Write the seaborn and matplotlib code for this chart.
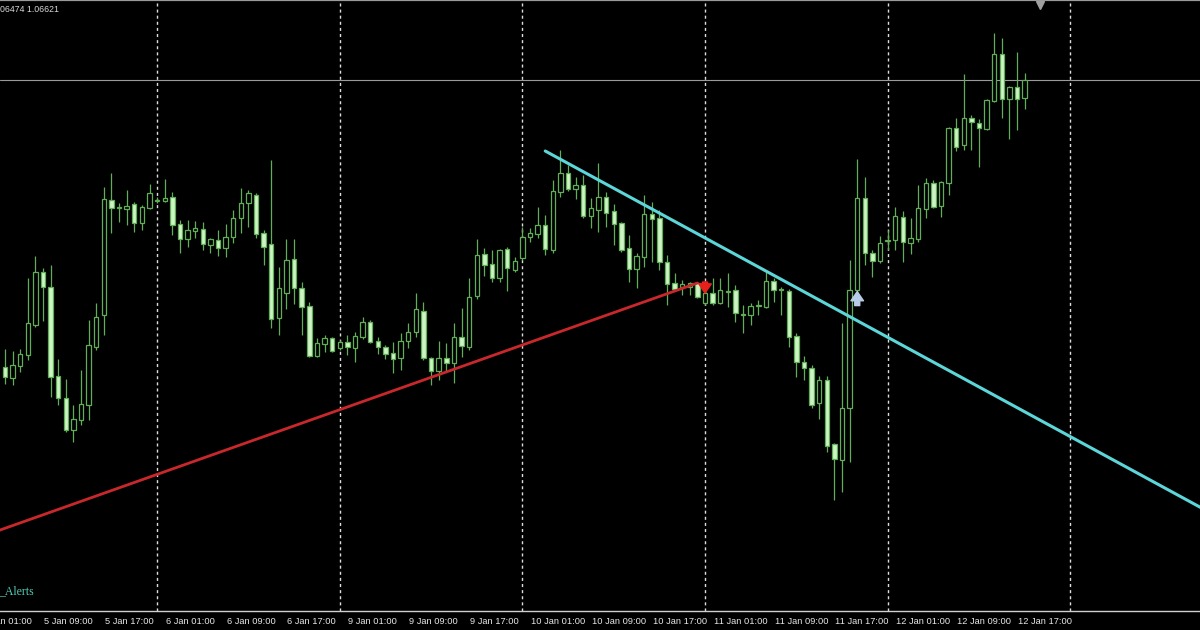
import numpy as np
import pandas as pd
import matplotlib
matplotlib.use("Agg")
import matplotlib.pyplot as plt
import matplotlib.transforms as mtransforms
import seaborn as sns

# ---------------- data (EURUSD H1) ----------------
open_ = [
    1.05185, 1.05130, 1.05190, 1.05245, 1.05395, 1.05660, 1.05585, 1.05140, 1.05030, 1.04870,
    1.04920, 1.04995, 1.05285, 1.05445, 1.06020, 1.05980, 1.05975, 1.06000, 1.05905, 1.05980,
    1.06015, 1.06015, 1.06035, 1.05900, 1.05825, 1.05865, 1.05875, 1.05795, 1.05820, 1.05780,
    1.05835, 1.05930, 1.06005, 1.06045, 1.05855, 1.05800, 1.05430, 1.05555, 1.05725, 1.05580,
    1.05490, 1.05240, 1.05300, 1.05330, 1.05280, 1.05310, 1.05280, 1.05335, 1.05410, 1.05315,
    1.05285, 1.05255, 1.05230, 1.05315, 1.05360, 1.05465, 1.05230, 1.05165, 1.05230, 1.05205,
    1.05335, 1.05285, 1.05540, 1.05750, 1.05700, 1.05630, 1.05775, 1.05670, 1.05730, 1.05835,
    1.05850, 1.05895, 1.05770, 1.06060, 1.06155, 1.06075, 1.06095, 1.05940, 1.05970, 1.06035,
    1.05965, 1.05905, 1.05780, 1.05675, 1.05735, 1.05950, 1.05930, 1.05710, 1.05605, 1.05585,
    1.05585, 1.05605, 1.05505, 1.05555, 1.05505, 1.05560, 1.05570, 1.05445, 1.05445, 1.05490,
    1.05485, 1.05615, 1.05572, 1.05565, 1.05340, 1.05210, 1.05180, 1.05005, 1.05120, 1.04800,
    1.04720, 1.04980, 1.05570, 1.06030, 1.05755, 1.05715, 1.05815, 1.05820, 1.05935, 1.05805,
    1.05825, 1.05975, 1.06105, 1.05990, 1.06105, 1.06380, 1.06295, 1.06430, 1.06405, 1.06375,
    1.06515, 1.06750, 1.06525, 1.06585, 1.06530,
]
high = [
    1.05275, 1.05265, 1.05275, 1.05630, 1.05740, 1.05680, 1.05695, 1.05225, 1.05125, 1.04995,
    1.05170, 1.05420, 1.05505, 1.06085, 1.06155, 1.06005, 1.06070, 1.06010, 1.05995, 1.06100,
    1.06035, 1.06125, 1.06060, 1.05920, 1.05920, 1.05915, 1.05910, 1.05830, 1.05870, 1.05900,
    1.05970, 1.06080, 1.06070, 1.06055, 1.05870, 1.06220, 1.05685, 1.05825, 1.05825, 1.05610,
    1.05510, 1.05330, 1.05345, 1.05335, 1.05320, 1.05345, 1.05360, 1.05435, 1.05420, 1.05335,
    1.05295, 1.05310, 1.05355, 1.05405, 1.05555, 1.05510, 1.05235, 1.05315, 1.05305, 1.05405,
    1.05480, 1.05630, 1.05825, 1.05780, 1.05770, 1.05775, 1.05785, 1.05735, 1.05885, 1.05880,
    1.05985, 1.05945, 1.06120, 1.06270, 1.06195, 1.06135, 1.06145, 1.06030, 1.06205, 1.06060,
    1.06000, 1.05910, 1.05845, 1.05755, 1.06045, 1.06010, 1.05970, 1.05745, 1.05655, 1.05620,
    1.05610, 1.05610, 1.05565, 1.05630, 1.05630, 1.05655, 1.05595, 1.05495, 1.05505, 1.05520,
    1.05660, 1.05630, 1.05585, 1.05575, 1.05355, 1.05240, 1.05195, 1.05140, 1.05140, 1.04805,
    1.05405, 1.05720, 1.06225, 1.06135, 1.05770, 1.05840, 1.05870, 1.05985, 1.05965, 1.05930,
    1.06095, 1.06130, 1.06120, 1.06115, 1.06385, 1.06430, 1.06650, 1.06445, 1.06425, 1.06525,
    1.06855, 1.06830, 1.06590, 1.06760, 1.06655,
]
low = [
    1.05100, 1.05095, 1.05160, 1.05220, 1.05385, 1.05415, 1.05035, 1.04995, 1.04860, 1.04810,
    1.04895, 1.04920, 1.05270, 1.05345, 1.05855, 1.05910, 1.05895, 1.05860, 1.05870, 1.05975,
    1.06005, 1.06010, 1.05845, 1.05755, 1.05785, 1.05830, 1.05770, 1.05755, 1.05740, 1.05735,
    1.05805, 1.05855, 1.05885, 1.05830, 1.05695, 1.05380, 1.05345, 1.05475, 1.05500, 1.05345,
    1.05235, 1.05235, 1.05260, 1.05260, 1.05270, 1.05245, 1.05210, 1.05325, 1.05305, 1.05250,
    1.05225, 1.05155, 1.05170, 1.05280, 1.05335, 1.05220, 1.05095, 1.05120, 1.05160, 1.05105,
    1.05235, 1.05270, 1.05525, 1.05640, 1.05610, 1.05610, 1.05565, 1.05660, 1.05720, 1.05810,
    1.05830, 1.05745, 1.05755, 1.06035, 1.06065, 1.06025, 1.05930, 1.05880, 1.05860, 1.05885,
    1.05795, 1.05760, 1.05610, 1.05580, 1.05685, 1.05710, 1.05670, 1.05495, 1.05570, 1.05545,
    1.05545, 1.05530, 1.05495, 1.05495, 1.05500, 1.05485, 1.05410, 1.05355, 1.05395, 1.05445,
    1.05480, 1.05510, 1.05445, 1.05285, 1.05135, 1.05120, 1.04980, 1.04925, 1.04760, 1.04520,
    1.04560, 1.04710, 1.05535, 1.05695, 1.05635, 1.05705, 1.05770, 1.05770, 1.05710, 1.05750,
    1.05810, 1.05930, 1.05980, 1.05935, 1.06045, 1.06265, 1.06270, 1.06270, 1.06185, 1.06370,
    1.06510, 1.06430, 1.06325, 1.06370, 1.06475,
]
close = [
    1.05135, 1.05195, 1.05250, 1.05405, 1.05660, 1.05585, 1.05135, 1.05030, 1.04870, 1.04925,
    1.05000, 1.05295, 1.05435, 1.06025, 1.05980, 1.05985, 1.05990, 1.05905, 1.05985, 1.06055,
    1.06020, 1.06030, 1.05895, 1.05825, 1.05870, 1.05880, 1.05800, 1.05825, 1.05780, 1.05835,
    1.05930, 1.06005, 1.06055, 1.05850, 1.05785, 1.05425, 1.05580, 1.05720, 1.05580, 1.05485,
    1.05240, 1.05305, 1.05330, 1.05265, 1.05310, 1.05285, 1.05340, 1.05410, 1.05310, 1.05285,
    1.05250, 1.05225, 1.05315, 1.05360, 1.05475, 1.05230, 1.05165, 1.05230, 1.05205, 1.05335,
    1.05290, 1.05535, 1.05745, 1.05695, 1.05630, 1.05770, 1.05680, 1.05715, 1.05835, 1.05855,
    1.05895, 1.05775, 1.06065, 1.06155, 1.06075, 1.06095, 1.05940, 1.05980, 1.06035, 1.05955,
    1.05900, 1.05770, 1.05675, 1.05740, 1.05950, 1.05925, 1.05710, 1.05600, 1.05575, 1.05600,
    1.05605, 1.05535, 1.05555, 1.05505, 1.05570, 1.05565, 1.05455, 1.05450, 1.05490, 1.05495,
    1.05615, 1.05570, 1.05575, 1.05335, 1.05210, 1.05180, 1.04995, 1.05120, 1.04790, 1.04725,
    1.04980, 1.05570, 1.06030, 1.05755, 1.05715, 1.05805, 1.05820, 1.05940, 1.05810, 1.05830,
    1.05980, 1.06105, 1.05985, 1.06110, 1.06380, 1.06285, 1.06430, 1.06410, 1.06380, 1.06520,
    1.06750, 1.06525, 1.06585, 1.06525, 1.06620,
]

tick_labels = ["5 Jan 01:00", "5 Jan 09:00", "5 Jan 17:00", "6 Jan 01:00", "6 Jan 09:00",
               "6 Jan 17:00", "9 Jan 01:00", "9 Jan 09:00", "9 Jan 17:00", "10 Jan 01:00",
               "10 Jan 09:00", "10 Jan 17:00", "11 Jan 01:00", "11 Jan 09:00", "11 Jan 17:00",
               "12 Jan 01:00", "12 Jan 09:00", "12 Jan 17:00"]
day_separators = ["2017-01-06 00:00", "2017-01-09 00:00", "2017-01-10 00:00",
                  "2017-01-11 00:00", "2017-01-12 00:00", "2017-01-13 00:00"]

# trend lines (time, price)
red_line_times = ["2017-01-05 03:00", "2017-01-10 23:00"]
red_line_prices = [1.04365, 1.05605]
cyan_line_times = ["2017-01-10 03:00", "2017-01-13 00:00"]
cyan_line_prices = [1.06265, 1.04837]

# signal arrows (time, tail price, tip price)
sell_signal = ("2017-01-11 00:00", 1.05610, 1.05555)
buy_signal = ("2017-01-11 20:00", 1.05492, 1.05562)

header_text = "06474 1.06621"
indicator_text = "_Alerts"

# ---------------- style ----------------
sns.set_style("dark", {"axes.facecolor": "black", "figure.facecolor": "black"})
plt.rcParams["font.family"] = ["Liberation Sans", "DejaVu Sans"]

GREEN = "#62ad58"
PALE = "#cdf5c4"


def trading_hours(start, end):
    rng = pd.date_range(start, end, freq="h")
    return rng[rng.dayofweek < 5]


slots = trading_hours("2017-01-05 01:00", "2017-01-13 00:00")
candle_times = trading_hours("2017-01-05 04:00", "2017-01-12 18:00")
xpos = slots.get_indexer(candle_times).astype(float)


def slot_of(t):
    return float(slots.get_loc(pd.Timestamp(t)))


o = np.array(open_)
h = np.array(high)
l = np.array(low)
c = np.array(close)

fig = plt.figure(figsize=(12, 6.3), dpi=100, facecolor="black")
ax = fig.add_axes([0, 19 / 630, 1, 611 / 630])
ax.set_facecolor("black")
ax.set_xlim(2.355, 160.04)
ax.set_ylim(1.03965, 1.0702)
ax.grid(False)

# day separators
for d in day_separators:
    ax.axvline(slot_of(d), color="#dcdcdc", lw=1.0, ls=(0, (2.2, 2.2)), zorder=1)

# bid line
ax.axhline(c[-1], color="#9a9a9a", lw=0.8, zorder=1.5)

# candles
ax.vlines(xpos, l, h, color=GREEN, lw=0.9, zorder=3)
bull = c >= o
bottom = np.minimum(o, c)
height = np.abs(c - o)
ax.bar(xpos[bull], height[bull], width=0.58, bottom=bottom[bull], color="black",
       edgecolor=GREEN, linewidth=0.9, zorder=4)
ax.bar(xpos[~bull], height[~bull], width=0.58, bottom=bottom[~bull], color=PALE,
       edgecolor=GREEN, linewidth=0.9, zorder=4)

# trend lines
red_df = pd.DataFrame({"slot": [slot_of(t) for t in red_line_times], "price": red_line_prices})
sns.lineplot(data=red_df, x="slot", y="price", color="#c8282c", lw=2.0, ax=ax, zorder=5)

cx = [slot_of(t) for t in cyan_line_times]
slope = (cyan_line_prices[1] - cyan_line_prices[0]) / (cx[1] - cx[0])
cyan_df = pd.DataFrame({"slot": cx + [170.0],
                        "price": cyan_line_prices + [cyan_line_prices[1] + slope * (170.0 - cx[1])]})
sns.lineplot(data=cyan_df, x="slot", y="price", color="#5cd6d8", lw=2.2, ax=ax, zorder=5)

# signal arrows
for (t, tail, tip), col in [(sell_signal, "#e8201c"), (buy_signal, "#b8cce8")]:
    xs = slot_of(t)
    ax.annotate("", xy=(xs, tip), xytext=(xs, tail),
                arrowprops=dict(arrowstyle="simple,head_length=0.55,head_width=0.75,tail_width=0.3",
                                color=col, mutation_scale=12, shrinkA=0, shrinkB=0),
                zorder=6)

# axes cosmetics
ax.set_yticks([])
ax.set_ylabel("")
ax.set_xlabel("")
for side in ["left", "right"]:
    ax.spines[side].set_visible(False)
ax.spines["top"].set_color("#9a9a9a")
ax.spines["top"].set_linewidth(1.6)
ax.spines["bottom"].set_color("#d0d0d0")
ax.spines["bottom"].set_linewidth(1.0)

tick_pos = [slot_of(pd.to_datetime(lbl + " 2017", format="%d %b %H:%M %Y")) for lbl in tick_labels]
ax.set_xticks([p for p in tick_pos if p >= ax.get_xlim()[0]])
ax.tick_params(axis="x", direction="out", length=3.5, width=0.8, color="#d0d0d0",
               labelbottom=False)

blend = mtransforms.blended_transform_factory(ax.transData, ax.transAxes)
lab_tr = blend + mtransforms.ScaledTranslation(1 / 100, -6 / 100, fig.dpi_scale_trans)
for p, lbl in zip(tick_pos, tick_labels):
    ax.text(p, 0, lbl, transform=lab_tr, ha="left", va="top", fontsize=6.7,
            color="#e6e6e6", clip_on=False)

# chart-shift marker
ax.plot([0.8667], [0.992], marker="v", ms=6, color="#a0a0a0", transform=ax.transAxes,
        clip_on=False, zorder=7)

fig.text(0.5 / 1200, 1 - 10 / 630, header_text, ha="left", va="center", fontsize=6.3,
         color="#d8d8d8")
fig.text(34 / 1200, 1 - 591 / 630, indicator_text, ha="right", va="center", fontsize=8.5,
         color="#52cdb6", family=["Liberation Serif", "DejaVu Serif"])

fig.savefig("out.png", dpi=100, facecolor="black")
